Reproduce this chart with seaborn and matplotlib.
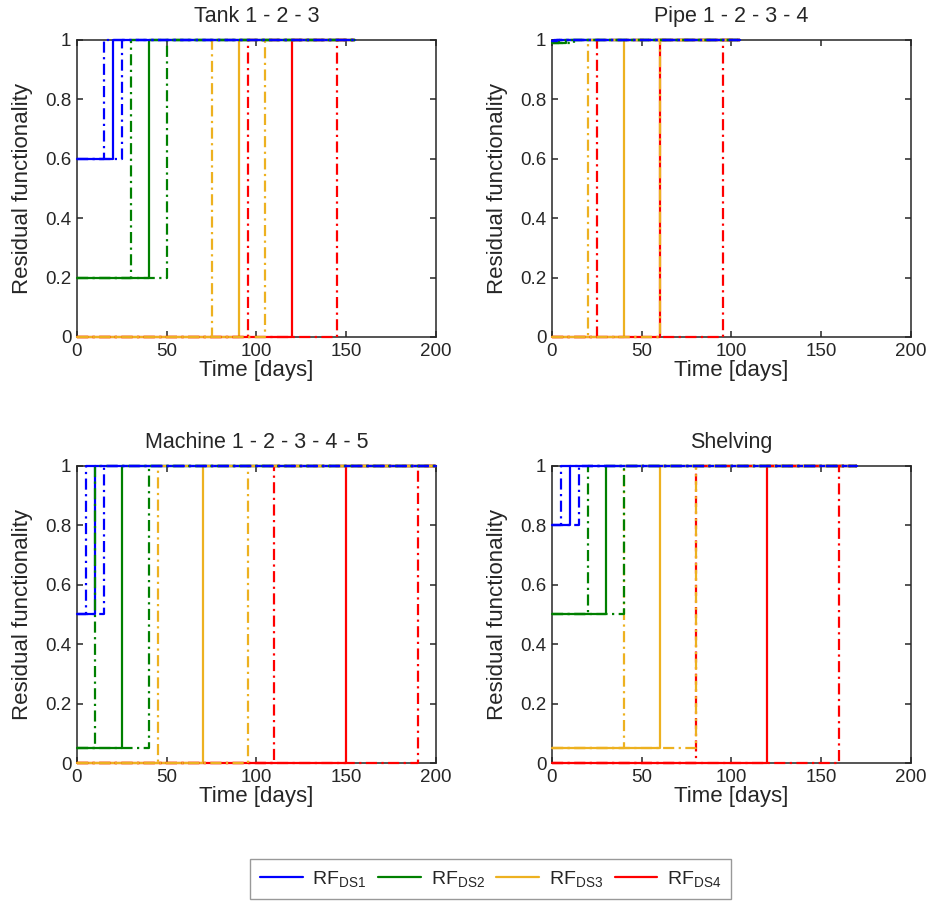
import numpy as np
import pandas as pd
import matplotlib
matplotlib.use("Agg")
import matplotlib.pyplot as plt
from matplotlib.ticker import FormatStrFormatter
import seaborn as sns

# Damage states and their colours
damage_states = ["DS1", "DS2", "DS3", "DS4"]
ds_colors = ["#0000FF", "#008000", "#EDB120", "#FF0000"]

panel_titles = ["Tank 1 - 2 - 3", "Pipe 1 - 2 - 3 - 4",
                "Machine 1 - 2 - 3 - 4 - 5", "Shelving"]

# Initial residual functionality per damage state (rows: panels)
rf_initial = [
    [0.60, 0.20, 0.00, 0.00],   # Tank
    [0.995, 0.99, 0.00, 0.00],  # Pipe
    [0.50, 0.05, 0.00, 0.00],   # Machine
    [0.80, 0.50, 0.05, 0.00],   # Shelving
]
# Restoration times [days]: lower bound, median, upper bound
t_lower = [
    [15, 30, 75, 95],
    [1, 4, 20, 25],
    [5, 10, 45, 110],
    [5, 20, 40, 80],
]
t_median = [
    [20, 40, 90, 120],
    [2, 8, 40, 60],
    [10, 25, 70, 150],
    [10, 30, 60, 120],
]
t_upper = [
    [25, 50, 105, 145],
    [3, 12, 60, 95],
    [15, 40, 95, 190],
    [15, 40, 80, 160],
]
# Length of the simulated time window per panel
t_end = [155, 105, 200, 170]

x_ticks = [0, 50, 100, 150, 200]
y_ticks = [0, 0.2, 0.4, 0.6, 0.8, 1.0]

sns.set_style("ticks")
plt.rcParams.update({
    "font.family": ["Liberation Sans", "DejaVu Sans"],
    "mathtext.fontset": "custom",
    "mathtext.rm": "Liberation Sans",
    "mathtext.it": "Liberation Sans:italic",
    "xtick.direction": "in",
    "ytick.direction": "in",
    "axes.edgecolor": "#262626",
    "axes.linewidth": 1.1,
    "xtick.color": "#262626",
    "ytick.color": "#262626",
    "xtick.major.size": 4,
    "ytick.major.size": 4,
    "xtick.major.width": 1.1,
    "ytick.major.width": 1.1,
})

fig = plt.figure(figsize=(9.31, 9.02), dpi=100)
ax_w, ax_h = 0.3856, 0.3293
positions = [
    (0.0827, 0.6264), (0.5929, 0.6264),
    (0.0827, 0.1541), (0.5929, 0.1541),
]
LW = 1.6
dashdot = (0, (5, 2, 1, 2))


def step_curve(rf0, t_rec, t_stop):
    """Recovery curve: constant at rf0 until t_rec, then full functionality."""
    return pd.DataFrame({"time": [0, t_rec, t_rec, t_stop],
                         "rf": [rf0, rf0, 1.0, 1.0]})


for p, (x0, y0) in enumerate(positions):
    ax = fig.add_axes([x0, y0, ax_w, ax_h])
    order = list(range(len(damage_states)))[::-1]
    # medians first, then the bounds on top
    for k in order:
        df = step_curve(rf_initial[p][k], t_median[p][k], t_end[p])
        sns.lineplot(data=df, x="time", y="rf", ax=ax, sort=False,
                     estimator=None, color=ds_colors[k], linewidth=LW,
                     clip_on=False, zorder=3)
    for k in order:
        for t_b in (t_lower[p][k], t_upper[p][k]):
            df = step_curve(rf_initial[p][k], t_b, t_end[p])
            sns.lineplot(data=df, x="time", y="rf", ax=ax, sort=False,
                         estimator=None, color=ds_colors[k], linewidth=LW,
                         linestyle=dashdot, clip_on=False, zorder=3)
    ax.set_xlim(0, 200)
    ax.set_ylim(0, 1)
    ax.set_xticks(x_ticks)
    ax.set_yticks(y_ticks)
    ax.yaxis.set_major_formatter(FormatStrFormatter("%g"))
    ax.tick_params(top=True, right=True, labelsize=13.5, pad=4)
    for s in ax.spines.values():
        s.set_visible(True)
    ax.set_title(panel_titles[p], fontsize=15.5, pad=13)
    ax.set_xlabel("Time [days]", fontsize=16, labelpad=0)
    ax.set_ylabel("Residual functionality", fontsize=16, labelpad=9)

legend_handles = [plt.Line2D([], [], color=c, linewidth=LW) for c in ds_colors]
legend_labels = [r"RF$_{\mathrm{%s}}$" % d for d in damage_states]
leg = fig.legend(legend_handles, legend_labels, loc="center",
                 bbox_to_anchor=(0.527, 0.0255), ncol=4, fontsize=14,
                 frameon=True, fancybox=False, edgecolor="#808080",
                 handlelength=2.2, columnspacing=0.6, handletextpad=0.5,
                 borderpad=0.5)
leg.get_frame().set_linewidth(1.0)

fig.savefig("out.png", dpi=100)
